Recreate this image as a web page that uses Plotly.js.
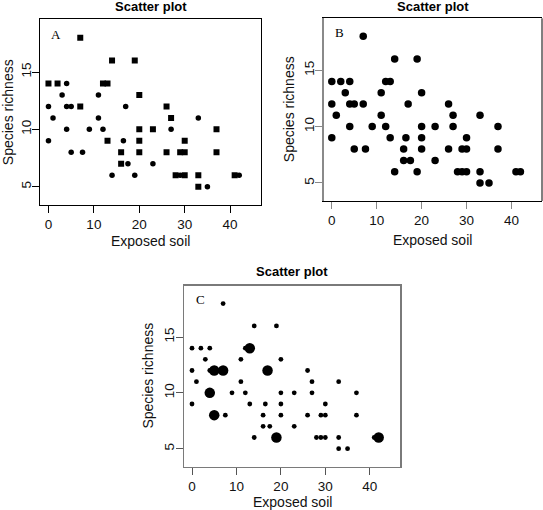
<!DOCTYPE html>
<html>
<head>
<meta charset="utf-8">
<script src="https://cdn.plot.ly/plotly-3.0.1.min.js"></script>
<style>html,body{margin:0;padding:0;background:#fff;}#chart{width:543px;height:510px;}</style>
</head>
<body>
<div id="chart"></div>
<script>
// Exposed soil (x) and species richness (y), same 54 sites in every panel
const exposedSoil = [0,0,0,1,2,3,4,4,4,5,5,7,7,7.5,9,11,11,12,12,13,13,14,14,16,16,16.5,17,17.5,19,19,20,20,20,20,23,23,26,26,27,27,28,29,29,30,30,30,33,33,33,35,37,37,41,42];
const speciesRichness = [14,12,9,11,14,13,14,12,10,12,8,18,12,8,10,13,11,14,10,14,9,16,6,8,7,9,12,7,16,6,13,10,9,8,10,7,12,8,11,10,6,8,6,9,8,6,11,6,5,5,10,8,6,6];
// Panel A: group of each site (S = square symbol, C = circle symbol)
const groupA = ['S','C','C','C','S','C','C','C','C','C','C','S','S','C','C','C','C','S','C','S','S','S','C','S','S','C','C','C','S','C','S','S','S','S','S','C','S','S','S','C','S','S','C','S','S','S','C','S','S','C','S','S','S','C'];
// Panel C: weight class of each site (1 = small, 2 = large)
const weightC = [1,1,1,1,1,1,1,1,2,2,2,1,2,1,1,1,1,1,1,2,1,1,1,1,1,1,2,1,1,2,1,1,1,1,1,1,1,1,1,1,1,1,1,1,1,1,1,1,1,1,1,1,1,2];
const xTicks = [0,10,20,30,40];
const yTicks = [5,10,15];
const xTitle = 'Exposed soil';
const yTitle = 'Species richness';
const plotTitle = 'Scatter plot';
const panelLetters = ['A','B','C'];

const W = 543, H = 510;
const px = v => v / W;
const py = v => 1 - v / H;
const sans = 'Liberation Sans, Arial, Helvetica, sans-serif';

function pick(arr, mask) { return arr.filter((_, i) => mask[i]); }
const isSq = groupA.map(g => g === 'S');
const isCi = groupA.map(g => g === 'C');

const traces = [
  {type:'scatter', mode:'markers', xaxis:'x', yaxis:'y',
   x: pick(exposedSoil, isSq), y: pick(speciesRichness, isSq),
   marker:{symbol:'square', size:6, color:'#000', opacity:1, line:{width:0}}, hoverinfo:'x+y'},
  {type:'scatter', mode:'markers', xaxis:'x', yaxis:'y',
   x: pick(exposedSoil, isCi), y: pick(speciesRichness, isCi),
   marker:{symbol:'circle', size:5.5, color:'#000', opacity:1, line:{width:0}}, hoverinfo:'x+y'},
  {type:'scatter', mode:'markers', xaxis:'x2', yaxis:'y2',
   x: exposedSoil, y: speciesRichness,
   marker:{symbol:'circle', size:7.5, color:'#000', opacity:1, line:{width:0}}, hoverinfo:'x+y'},
  {type:'scatter', mode:'markers', xaxis:'x3', yaxis:'y3',
   x: exposedSoil, y: speciesRichness,
   marker:{symbol:'circle', size: weightC.map(w => w === 2 ? 10.5 : 4.8), color:'#000', opacity:1, line:{width:0}}, hoverinfo:'x+y'}
];

function xAx(dom, anchor, col, tcol) {
  return {domain: dom, anchor: anchor, range:[-1.8, 46.8], tickmode:'array', tickvals:xTicks,
    ticks:'outside', ticklen:7, tickwidth:1, tickcolor:tcol, showline:true, mirror:true,
    linecolor:col, linewidth:1, showgrid:false, zeroline:false,
    tickfont:{family:sans, size:13.5, color:'#111'}};
}
function yAx(dom, anchor, col, tcol, mirror) {
  return {domain: dom, anchor: anchor, range:[3.4, 19.6], tickmode:'array', tickvals:yTicks,
    tickangle:-90, ticks:'outside', ticklen:7, tickwidth:1, tickcolor:tcol, showline:true, mirror:mirror,
    linecolor:col, linewidth:1, showgrid:false, zeroline:false, ticklabelstandoff:-4,
    tickfont:{family:sans, size:13.5, color:'#111'}};
}

const boxes = [
  {x0:40.3, x1:261, y0:19.3, y1:205},
  {x0:323.7, x1:542, y0:18.3, y1:201},
  {x0:184, x1:400, y0:285.7, y1:466.5}
];

const layout = {
  width: W, height: H, margin:{l:0, r:0, t:0, b:0}, showlegend:false,
  paper_bgcolor:'#fff', plot_bgcolor:'#fff',
  xaxis: xAx([px(boxes[0].x0), px(boxes[0].x1)], 'y', '#000', '#000'),
  yaxis: yAx([py(boxes[0].y1), py(boxes[0].y0)], 'x', '#000', '#000', true),
  xaxis2: xAx([px(boxes[1].x0), px(boxes[1].x1)], 'y2', '#000', '#888'),
  yaxis2: yAx([py(boxes[1].y1), py(boxes[1].y0)], 'x2', '#8a8a8a', '#888', false),
  xaxis3: xAx([px(boxes[2].x0), px(boxes[2].x1)], 'y3', '#7a7a7a', '#555'),
  yaxis3: yAx([py(boxes[2].y1), py(boxes[2].y0)], 'x3', '#7a7a7a', '#555', true),
  shapes: [
    {type:'line', xref:'x2 domain', yref:'y2 domain', x0:1, x1:1, y0:0, y1:1, line:{color:'#000', width:1}}
  ],
  annotations: []
};
layout.xaxis3.linewidth = 1.5; layout.yaxis3.linewidth = 1.5;
layout.yaxis2.linewidth = 1.5;

const titleY = [6.5, 7, 271.5];
const xTitleY = [240.5, 240, 501.5];
const yTitleX = [8, 288.5, 148.5];
const letterY = [18.25, 18.3, 18.35];
const letterX = [0.2, 0.3, 0.5];
const axSuffix = ['', '2', '3'];
boxes.forEach((b, i) => {
  const cx = px((b.x0 + b.x1) / 2);
  const cy = py((b.y0 + b.y1) / 2);
  layout.annotations.push({text:'<b>' + plotTitle + '</b>', xref:'paper', yref:'paper', x:cx, y:py(titleY[i]),
    xanchor:'center', yanchor:'middle', showarrow:false, font:{family:sans, size:13, color:'#000'}});
  layout.annotations.push({text:xTitle, xref:'paper', yref:'paper', x:cx, y:py(xTitleY[i]),
    xanchor:'center', yanchor:'middle', showarrow:false, font:{family:sans, size:14, color:'#111'}});
  layout.annotations.push({text:yTitle, xref:'paper', yref:'paper', x:px(yTitleX[i]), y:cy, textangle:-90,
    xanchor:'center', yanchor:'middle', showarrow:false, font:{family:sans, size:14, color:'#111'}});
  layout.annotations.push({text:panelLetters[i], xref:'x' + axSuffix[i], yref:'y' + axSuffix[i],
    x:letterX[i], y:letterY[i], xanchor:'left', yanchor:'middle', showarrow:false,
    font:{family:'Liberation Serif, Times New Roman, serif', size:13, color:'#000'}});
});

Plotly.newPlot('chart', traces, layout, {staticPlot:true, displayModeBar:false});
</script>
</body>
</html>
